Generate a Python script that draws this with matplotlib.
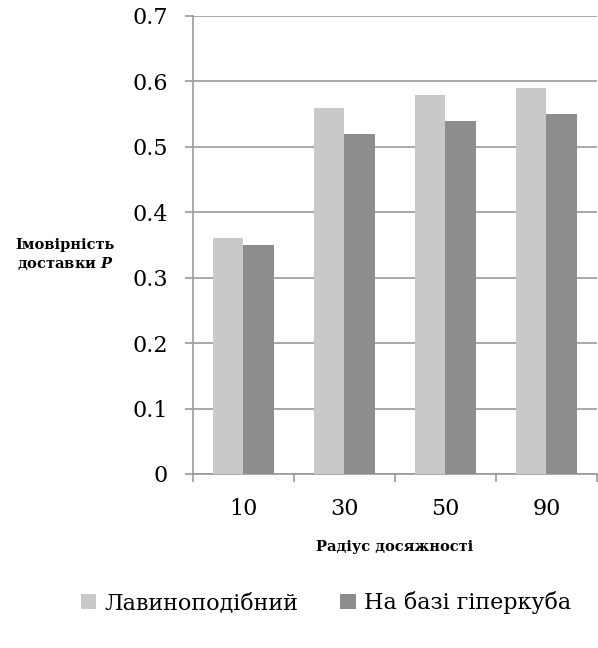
import matplotlib
matplotlib.use('Agg')
import matplotlib.pyplot as plt
import numpy as np
from matplotlib.patches import Patch

plt.rcParams['font.family'] = ['DejaVu Serif']
plt.rcParams['mathtext.fontset'] = 'custom'
plt.rcParams['mathtext.bfit'] = 'DejaVu Serif:italic:bold'

# дані
categories = ['10', '30', '50', '90']
avalanche = [0.36, 0.56, 0.58, 0.59]
hypercube = [0.35, 0.52, 0.54, 0.55]
series_names = ['Лавиноподібний', 'На базі гіперкуба']

light = '#c9c9c9'
dark = '#8d8d8d'
grid_c = '#9a9a9a'

fig = plt.figure(figsize=(5.98, 6.48), dpi=100)
ax = fig.add_axes([193 / 598, 1 - 474 / 648, 1 - 193 / 598 - 0.002, (474 - 16) / 648])

x = np.arange(len(categories))
w = 0.3
ax.bar(x - w / 2, avalanche, w, color=light, zorder=3)
ax.bar(x + w / 2, hypercube, w, color=dark, zorder=3)

ax.set_xlim(-0.5, len(categories) - 0.5)
ax.set_ylim(0, 0.7)
ax.set_yticks(np.arange(0, 0.71, 0.1))
ax.set_yticklabels(['0', '0.1', '0.2', '0.3', '0.4', '0.5', '0.6', '0.7'])
ax.yaxis.grid(True, color=grid_c, linewidth=1.2, zorder=0)

ax.set_xticks(x)
ax.set_xticklabels(categories)
ax.set_xticks(np.arange(-0.5, len(categories)), minor=True)
ax.tick_params(axis='x', which='major', length=0, pad=17, labelsize=16)
ax.tick_params(axis='x', which='minor', length=6, width=1.2, color=grid_c, direction='out')
ax.tick_params(axis='y', length=6, width=1.2, color=grid_c, direction='out', pad=12, labelsize=16)

for s in ['top', 'right']:
    ax.spines[s].set_visible(False)
for s in ['left', 'bottom']:
    ax.spines[s].set_color(grid_c)
    ax.spines[s].set_linewidth(1.2)

fig.text(395 / 598, 1 - 547 / 648, 'Радіус досяжності', ha='center', va='center',
         fontsize=10.5, fontweight='bold')
fig.text(65 / 598, 1 - 255 / 648, 'Імовірність\nдоставки $\\mathbfit{P}$', ha='center',
         va='center', fontsize=10.5, fontweight='bold', linespacing=1.25)

handles = [Patch(facecolor=light), Patch(facecolor=dark)]
fig.legend(handles, series_names, loc='center', bbox_to_anchor=(0.545, 1 - 603 / 648),
           ncol=2, frameon=False, fontsize=16, handlelength=0.68, handleheight=0.68,
           handletextpad=0.36, columnspacing=1.9)

fig.savefig('out.png', dpi=100)
